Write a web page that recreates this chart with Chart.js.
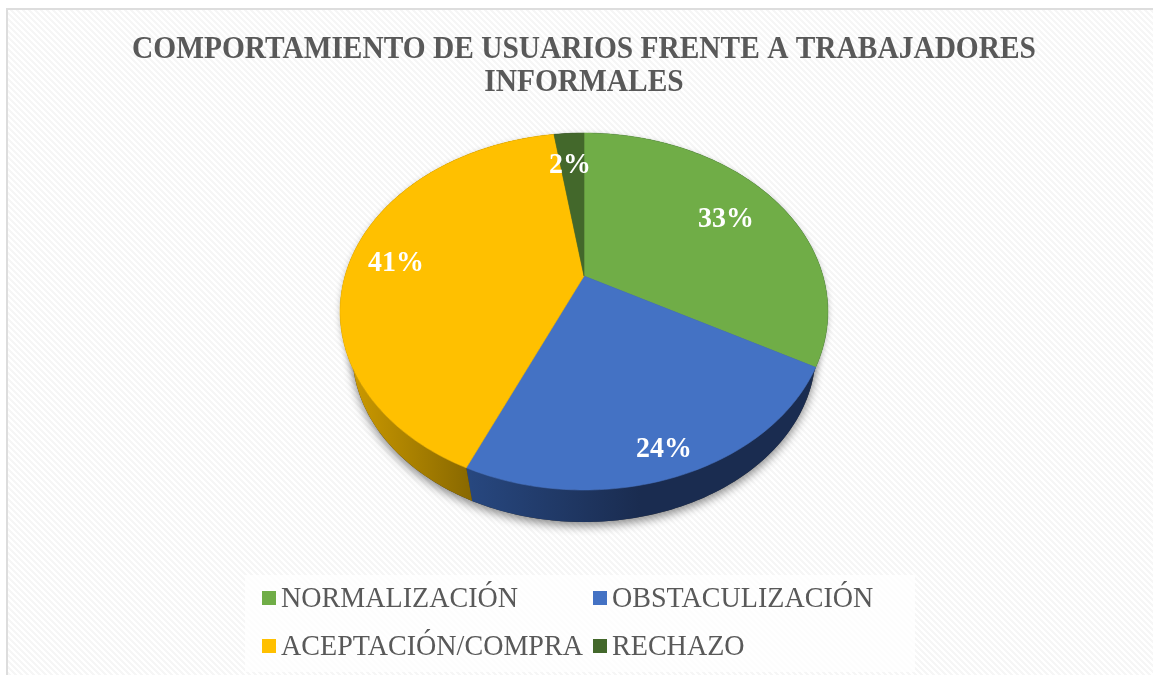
<!DOCTYPE html>
<html><head><meta charset="utf-8">
<style>html,body{margin:0;padding:0;background:#fff;overflow:hidden}canvas{display:block}</style>
<script src="https://cdn.jsdelivr.net/npm/chart.js@4"></script></head>
<body><div style="width:1153px;height:675px"><canvas id="c" width="1153" height="675"></canvas></div>
<script>
const titleLines = ['COMPORTAMIENTO DE USUARIOS FRENTE A TRABAJADORES','INFORMALES'];
const categories = ['NORMALIZACIÓN','OBSTACULIZACIÓN','ACEPTACIÓN/COMPRA','RECHAZO'];
const shares = [33, 23.6, 41, 2.4];
const sliceColors = ['#70AD47','#4472C4','#FFC000','#43682B'];
const labelOffsets = [[142,-57],[80,173],[-188,-13],[-14,-111]];

// projection of the tilted pie
const P = {cx:584, cy:276, a:239, b:171.4, k:-0.199, shrink:0.95, drop:42.7};
function rimTop(t){const u=Math.cos(t),v=Math.sin(t),w=1+P.k*v;return [P.cx+P.a*u/w,P.cy+P.b*v/w];}
function rimLow(t){const p=rimTop(t);return [P.cx+(p[0]-P.cx)*P.shrink,P.cy+(p[1]-P.cy)*P.shrink+P.drop];}
function sweep(ctx,fn,a0,a1,first){const n=Math.max(4,Math.ceil(Math.abs(a1-a0)*60));
  for(let i=0;i<=n;i++){const p=fn(a0+(a1-a0)*i/n);if(i===0&&first)ctx.moveTo(p[0],p[1]);else ctx.lineTo(p[0],p[1]);}}
function squeezedText(x,s,px,py,sx){x.save();x.translate(px,py);x.scale(sx,1);x.fillText(s,0,0);x.restore();}

function hatch(ctx){const c=document.createElement('canvas');c.width=c.height=6;const g=c.getContext('2d');
  g.fillStyle='#ffffff';g.fillRect(0,0,6,6);g.fillStyle='#f6f6f6';
  for(let y=0;y<6;y++)for(let x=0;x<6;x++){if(((x-y+12)%6)<3)g.fillRect(x,y,1,1);}
  return ctx.createPattern(c,'repeat');}

const backdrop={id:'backdrop',
 afterLayout(ch){const b=ch.titleBlock;if(b.squeezed)return;b.squeezed=true;const d=b.draw;
  b.draw=function(){const c=ch.ctx;c.save();c.translate(584,0);c.scale(0.919,1);c.translate(-584,0);d.call(this);c.restore();};},
 beforeDraw(ch){const x=ch.ctx;x.save();
  x.fillStyle='#fff';x.fillRect(0,0,1153,675);
  x.fillStyle=hatch(x);x.fillRect(7,9,1146,666);
  x.fillStyle='#dddddd';x.fillRect(6,8,1147,2);x.fillRect(6,8,2,667);
  x.fillStyle='rgba(255,255,255,0.75)';x.fillRect(245,575,670,97);
  x.restore();}};

const pie3d={id:'pie3d',beforeDatasetDraw(ch,args){
  const x=ch.ctx,els=ch.getDatasetMeta(args.index).data;x.save();
  // shadow under the whole solid
  x.save();x.shadowColor='rgba(0,0,0,0.45)';x.shadowBlur=10;x.shadowOffsetY=4;x.fillStyle='#333';
  x.beginPath();sweep(x,rimLow,0,Math.PI*2,true);x.closePath();x.fill();
  x.beginPath();sweep(x,rimTop,0,Math.PI*2,true);x.closePath();x.shadowOffsetY=2;x.shadowBlur=6;x.shadowColor='rgba(0,0,0,0.25)';x.fill();x.restore();
  // side wall
  const wall=[['#1b2e53','#1b2e53'],['#27477f','#1a2c50'],['#cf9c00','#886800'],['#2a4019','#2a4019']];
  const wx=[[584,830],[470,640],[345,472],[540,590]];
  els.forEach((e,i)=>{const g=x.createLinearGradient(wx[i][0],0,wx[i][1],0);g.addColorStop(0,wall[i][0]);g.addColorStop(1,wall[i][1]);
    x.fillStyle=g;x.beginPath();sweep(x,rimTop,e.startAngle,e.endAngle,true);sweep(x,rimLow,e.endAngle,e.startAngle,false);x.closePath();x.fill();});
  // top face
  els.forEach((e,i)=>{x.fillStyle=e.options.backgroundColor;x.strokeStyle=e.options.backgroundColor;x.lineWidth=0.6;
    x.beginPath();x.moveTo(P.cx,P.cy);sweep(x,rimTop,e.startAngle,e.endAngle,false);x.closePath();x.fill();x.stroke();});
  x.restore();return false;},
 afterDatasetsDraw(ch){const x=ch.ctx;x.save();
  x.font='bold 30px "Liberation Serif"';x.fillStyle='#fff';x.textAlign='center';x.textBaseline='middle';
  const d=ch.data.datasets[0].data;
  d.forEach((v,i)=>squeezedText(x,Math.round(v)+'%',P.cx+labelOffsets[i][0],P.cy+labelOffsets[i][1],0.93));
  // legend
  const pos=[[262,598],[593,598],[262,646],[593,646]];
  x.textAlign='left';x.font='30px "Liberation Serif"';
  ch.data.labels.forEach((l,i)=>{const p=pos[i];x.fillStyle=sliceColors[i];x.fillRect(p[0],p[1]-7,14,14);
    x.fillStyle='#595959';squeezedText(x,l,p[0]+19,p[1]+1,0.936);});
  x.restore();}};

new Chart(document.getElementById('c'),{type:'pie',
 data:{labels:categories,datasets:[{data:shares,backgroundColor:sliceColors,borderWidth:0}]},
 plugins:[backdrop,pie3d],
 options:{responsive:false,animation:false,layout:{padding:{left:15,top:33,right:0,bottom:100}},
  plugins:{legend:{display:false},tooltip:{enabled:false},
   title:{display:true,fullSize:false,text:titleLines,color:'#595959',font:{family:'"Liberation Serif"',size:32,weight:'bold',lineHeight:1.03},padding:0}}}});
</script></body></html>
